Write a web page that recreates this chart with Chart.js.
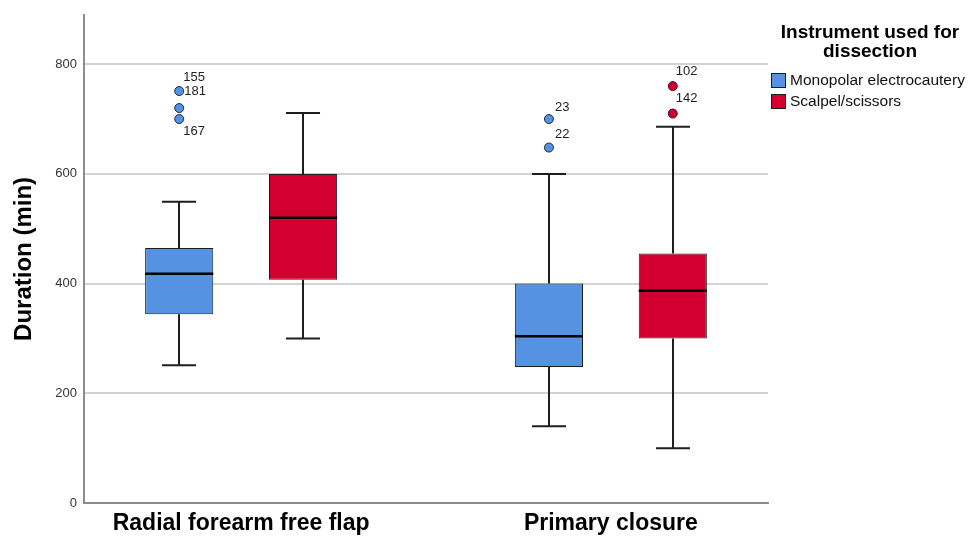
<!DOCTYPE html>
<html>
<head>
<meta charset="utf-8">
<script src="https://cdn.jsdelivr.net/npm/chart.js@4/dist/chart.umd.min.js"></script>
<style>
  html, body { margin: 0; padding: 0; background: #ffffff; }
  #wrap { width: 974px; height: 536px; position: relative; }
</style>
</head>
<body>
<div id="wrap"><canvas id="chart"></canvas></div>
<script>
// Operation duration by defect closure type and dissection instrument
const categories = ['Radial forearm free flap', 'Primary closure'];
const instruments = ['Monopolar electrocautery', 'Scalpel/scissors'];
const legendTitle = ['Instrument used for', 'dissection'];
const yTicks = [0, 200, 400, 600, 800];

// [lower whisker, Q1, median, Q3, upper whisker] per category
const monopolarStats = [[251, 344, 418, 465, 549], [140, 248, 304, 400, 600]];
const scalpelStats   = [[300, 407, 520, 600, 711], [100, 300, 387, 455, 686]];

// outliers: [category index, minutes, case number]
const monopolarOutliers = [[0, 751, '155'], [0, 720, '181'], [0, 700, '167'], [1, 700, '23'], [1, 648, '22']];
const scalpelOutliers   = [[1, 760, '102'], [1, 710, '142']];

// where each case number sits relative to its point (px)
const caseLabelOffset = {
  '155': [4, -14], '181': [5, -17], '167': [4, 12],
  '23': [6, -12], '22': [6, -13], '102': [3, -15], '142': [3, -15]
};

const FONT = 'Arial, "Liberation Sans", sans-serif';
const COLORS = ['#5592e1', '#d3002f'];
const EDGE = '#1e1e1e';
const CAT_PCT = 0.67;
const BAR_PCT = 0.55;
const statsBySeries = [monopolarStats, scalpelStats];

function boxData(stats) {
  return stats.map((s, i) => ({ x: i + 1, y: [s[1], s[3]] }));
}
function outlierData(list, side) {
  // bars in a group sit a quarter of the category fraction either side of the tick
  return list.map(o => ({ x: o[0] + 1 + side * CAT_PCT / 4, y: o[1], id: o[2] }));
}

const boxExtras = {
  id: 'boxExtras',
  beforeDatasetsDraw(chart) {
    const ys = chart.scales.y, ctx = chart.ctx;
    ctx.save();
    ctx.strokeStyle = EDGE;
    ctx.lineWidth = 2;
    statsBySeries.forEach((stats, k) => {
      chart.getDatasetMeta(k).data.forEach((bar, i) => {
        const s = stats[i];
        const x = Math.round(bar.x);
        const cap = bar.width / 4;
        const lo = ys.getPixelForValue(s[0]), q1 = ys.getPixelForValue(s[1]);
        const q3 = ys.getPixelForValue(s[3]), hi = ys.getPixelForValue(s[4]);
        ctx.beginPath();
        ctx.moveTo(x, q1); ctx.lineTo(x, lo);
        ctx.moveTo(x - cap, lo); ctx.lineTo(x + cap, lo);
        ctx.moveTo(x, q3); ctx.lineTo(x, hi);
        ctx.moveTo(x - cap, hi); ctx.lineTo(x + cap, hi);
        ctx.stroke();
      });
    });
    ctx.restore();
  },
  afterDatasetsDraw(chart) {
    const ys = chart.scales.y, ctx = chart.ctx;
    ctx.save();
    // medians
    ctx.strokeStyle = '#000000';
    ctx.lineWidth = 2.5;
    statsBySeries.forEach((stats, k) => {
      chart.getDatasetMeta(k).data.forEach((bar, i) => {
        const m = ys.getPixelForValue(stats[i][2]);
        ctx.beginPath();
        ctx.moveTo(bar.x - bar.width / 2, m);
        ctx.lineTo(bar.x + bar.width / 2, m);
        ctx.stroke();
      });
    });
    // case numbers next to outliers
    ctx.fillStyle = '#222222';
    ctx.font = '13px ' + FONT;
    ctx.textAlign = 'left';
    ctx.textBaseline = 'middle';
    [2, 3].forEach(d => {
      const ds = chart.data.datasets[d];
      chart.getDatasetMeta(d).data.forEach((pt, i) => {
        const id = ds.data[i].id;
        const off = caseLabelOffset[id] || [6, 0];
        ctx.fillText(id, pt.x + off[0], pt.y + off[1]);
      });
    });
    ctx.restore();
  },
  afterDraw(chart) {
    const ctx = chart.ctx, area = chart.chartArea;
    const cx = area.right + 102;
    ctx.save();
    ctx.fillStyle = '#000000';
    ctx.textAlign = 'center';
    ctx.textBaseline = 'middle';
    ctx.font = 'bold 19px ' + FONT;
    legendTitle.forEach((t, i) => ctx.fillText(t, cx, 33 + i * 19));
    ctx.font = '15.5px ' + FONT;
    ctx.textAlign = 'left';
    instruments.forEach((name, i) => {
      const top = 73 + i * 21;
      ctx.fillStyle = COLORS[i];
      ctx.fillRect(area.right + 3, top, 15, 15);
      ctx.strokeStyle = EDGE;
      ctx.lineWidth = 1;
      ctx.strokeRect(area.right + 3.5, top + 0.5, 14, 14);
      ctx.fillStyle = '#111111';
      ctx.fillText(name, area.right + 22, top + 8);
    });
    ctx.restore();
  }
};

new Chart(document.getElementById('chart'), {
  type: 'bar',
  data: {
    datasets: [
      {
        label: instruments[0], data: boxData(monopolarStats),
        backgroundColor: COLORS[0], borderColor: EDGE, borderWidth: 1, borderSkipped: false,
        categoryPercentage: CAT_PCT, barPercentage: BAR_PCT
      },
      {
        label: instruments[1], data: boxData(scalpelStats),
        backgroundColor: COLORS[1], borderColor: EDGE, borderWidth: 1, borderSkipped: false,
        categoryPercentage: CAT_PCT, barPercentage: BAR_PCT
      },
      {
        type: 'scatter', label: instruments[0] + ' outliers', data: outlierData(monopolarOutliers, -1),
        backgroundColor: COLORS[0], borderColor: '#222a40', borderWidth: 1, pointRadius: 4.5, showLine: false
      },
      {
        type: 'scatter', label: instruments[1] + ' outliers', data: outlierData(scalpelOutliers, 1),
        backgroundColor: COLORS[1], borderColor: '#40101a', borderWidth: 1, pointRadius: 4.5, showLine: false
      }
    ]
  },
  options: {
    responsive: true,
    maintainAspectRatio: false,
    animation: false,
    events: [],
    layout: { padding: { top: 14, right: 206, left: 0, bottom: 0 } },
    plugins: { legend: { display: false }, tooltip: { enabled: false } },
    scales: {
      x: {
        type: 'linear',
        offset: false,
        min: 0.575, max: 2.425,
        afterBuildTicks: s => { s.ticks = categories.map((c, i) => ({ value: i + 1 })); },
        afterFit: s => { s.height = 33; },
        grid: { display: false, drawTicks: false, offset: false },
        border: { display: true, color: '#8c8c8c', width: 2 },
        ticks: {
          autoSkip: false, maxRotation: 0, padding: 9,
          color: '#000000',
          font: { family: FONT, size: 23, weight: 'bold', lineHeight: 1 },
          callback: v => categories[v - 1]
        }
      },
      y: {
        min: 0, max: 890,
        afterBuildTicks: s => { s.ticks = yTicks.map(v => ({ value: v })); },
        afterFit: s => { s.width = 84; },
        grid: {
          drawTicks: false, lineWidth: 2,
          color: c => (c.tick && c.tick.value === 0) ? 'rgba(0,0,0,0)' : '#d3d3d3'
        },
        border: { display: true, color: '#8c8c8c', width: 2 },
        ticks: { padding: 7, color: '#333333', font: { family: FONT, size: 13 } },
        title: {
          display: true, text: 'Duration (min)', color: '#000000',
          padding: { top: 10, bottom: 0 },
          font: { family: FONT, size: 24, weight: 'bold' }
        }
      }
    }
  },
  plugins: [boxExtras]
});
</script>
</body>
</html>
